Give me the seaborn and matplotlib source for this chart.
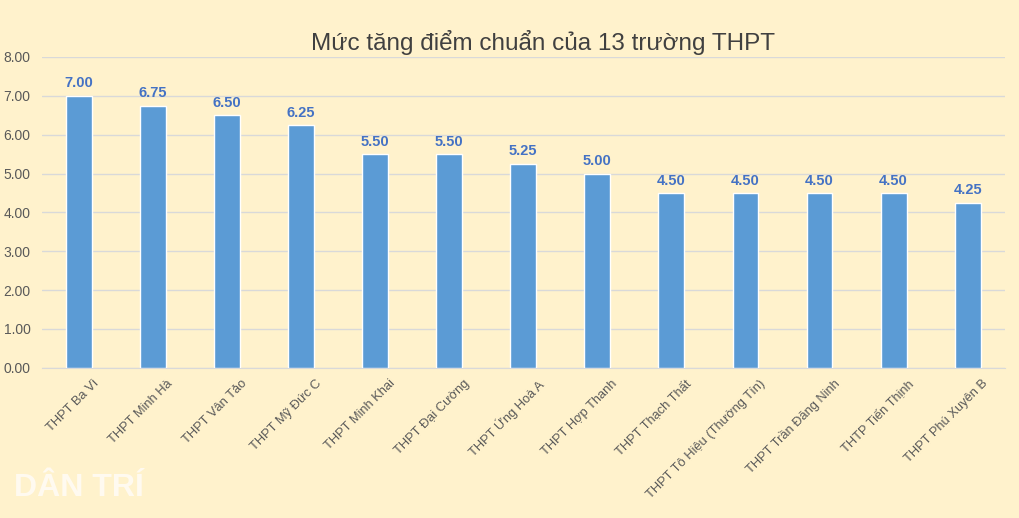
import numpy as np
import pandas as pd
import matplotlib
matplotlib.use("Agg")
import matplotlib.pyplot as plt
import matplotlib.transforms as mtransforms
import seaborn as sns
from matplotlib.ticker import FormatStrFormatter

# Data
schools = ["THPT Ba Vì", "THPT Minh Hà", "THPT Vân Tảo", "THPT Mỹ Đức C",
           "THPT Minh Khai", "THPT Đại Cường", "THPT Ứng Hoà A", "THPT Hợp Thanh",
           "THPT Thạch Thất", "THPT Tô Hiệu (Thường Tín)", "THPT Trần Đăng Ninh",
           "THTP Tiến Thịnh", "THPT Phú Xuyên B"]
increase = [7.00, 6.75, 6.50, 6.25, 5.50, 5.50, 5.25, 5.00, 4.50, 4.50, 4.50, 4.50, 4.25]
y_ticks = [0, 1, 2, 3, 4, 5, 6, 7, 8]
title = "Mức tăng điểm chuẩn của 13 trường THPT"

df = pd.DataFrame({"school": schools, "value": increase})

bg = "#FFF2CC"
sns.set_style("white")
plt.rcParams['font.family'] = ['Liberation Sans', 'DejaVu Sans']

fig = plt.figure(figsize=(10.2, 5.18), dpi=100, facecolor=bg)
ax = fig.add_axes([0.041, 0.29, 0.944, 0.60])
ax.set_facecolor(bg)

sns.barplot(data=df, x="school", y="value", color="#5B9BD5", width=0.35,
            saturation=1, ax=ax, zorder=3)

for i, v in enumerate(increase):
    ax.text(i, v + 0.14, f"{v:.2f}", ha="center", va="bottom", fontsize=10.5,
            fontweight="bold", color="#4472C4")

ax.set_ylim(0, 8)
ax.set_yticks(y_ticks)
ax.yaxis.set_major_formatter(FormatStrFormatter("%.2f"))
ax.grid(axis="y", color="#D9D9D9", linewidth=1, zorder=0)
for s in ["top", "right", "left"]:
    ax.spines[s].set_visible(False)
ax.spines["bottom"].set_color("#D9D9D9")
ax.tick_params(axis="y", length=0, labelsize=10, colors="#595959", pad=8)
ax.tick_params(axis="x", length=0, labelsize=9.3, colors="#595959", pad=7)
offset = mtransforms.ScaledTranslation(14 / 100, 0, fig.dpi_scale_trans)
for lbl in ax.get_xticklabels():
    lbl.set_rotation(45)
    lbl.set_ha("right")
    lbl.set_rotation_mode("anchor")
    lbl.set_transform(lbl.get_transform() + offset)
ax.set_xlabel("")
ax.set_ylabel("")

fig.text(0.532, 0.917, title, ha="center", va="center", fontsize=17.5, color="#404040")
fig.text(0.014, 0.058, "DÂN TRÍ", ha="left", va="center", fontsize=23,
         fontweight="bold", color="#FFFAF0")

fig.savefig("out.png", dpi=100, facecolor=bg)
